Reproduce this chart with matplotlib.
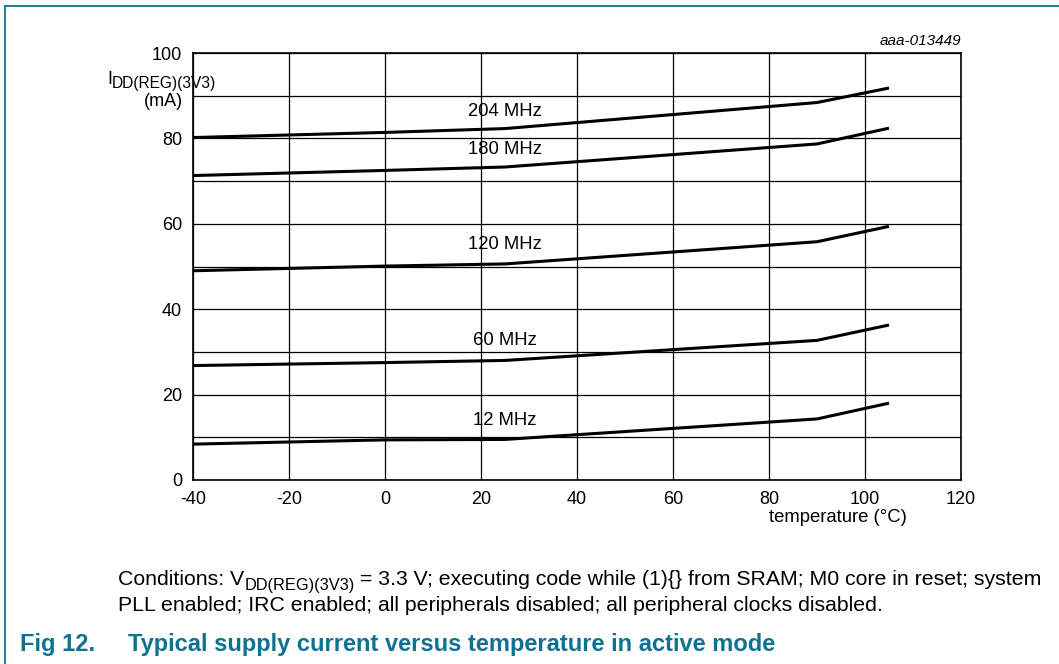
import matplotlib.pyplot as plt
from matplotlib.lines import Line2D

plt.rcParams['font.family'] = ['Liberation Sans', 'DejaVu Sans']
plt.rcParams['axes.unicode_minus'] = False

temp = [-40, 0, 25, 90, 105]

i_204 = [80.2, 81.4, 82.3, 88.4, 91.8]
i_180 = [71.3, 72.5, 73.3, 78.7, 82.4]
i_120 = [49.0, 50.1, 50.6, 55.8, 59.4]
i_60 = [26.8, 27.5, 28.0, 32.7, 36.3]
i_12 = [8.4, 9.4, 9.5, 14.3, 18.0]

series = [i_204, i_180, i_120, i_60, i_12]
labels = ['204 MHz', '180 MHz', '120 MHz', '60 MHz', '12 MHz']
label_y = [86.3, 77.3, 55.2, 32.7, 13.9]

teal = '#0f7291'
W, H = 1059, 664

fig = plt.figure(figsize=(W / 100, H / 100), dpi=100)
ax = fig.add_axes([193 / W, 1 - 480 / H, (961 - 193) / W, (480 - 53) / H])

for vals in series:
    ax.plot(temp, vals, color='black', lw=2.2, solid_capstyle='butt', zorder=3)

for lab, ly in zip(labels, label_y):
    ax.text(25, ly, lab, ha='center', va='center', fontsize=13.3, zorder=4)

ax.set_xlim(-40, 120)
ax.set_ylim(0, 100)
ax.set_xticks(range(-40, 121, 20))
ax.set_yticks(range(0, 101, 20))
ax.set_yticks(range(0, 101, 10), minor=True)
ax.grid(which='both', color='black', lw=0.9)
ax.tick_params(which='both', length=0, labelsize=13, pad=8)
for s in ax.spines.values():
    s.set_linewidth(1.2)

renderer = fig.canvas.get_renderer()


def put_parts(x, y, parts, **kw):
    # place text pieces one after another, in pixel coords from top-left
    for txt, size, dy in parts:
        t = fig.text(x / W, 1 - (y + dy) / H, txt, ha='left', va='baseline', fontsize=size, **kw)
        x += t.get_window_extent(renderer).width


# axis titles
put_parts(107, 84, [('I', 13, 0), ('DD(REG)(3V3)', 11.2, 4)])
fig.text(183 / W, 1 - 101 / H, '(mA)', ha='right', va='center', fontsize=13)
fig.text(907 / W, 1 - 517 / H, 'temperature (°C)', ha='right', va='center', fontsize=13.3)
fig.text(961 / W, 1 - 41 / H, 'aaa-013449', ha='right', va='center', fontsize=11, style='italic')

# conditions note
put_parts(118, 585, [('Conditions: V', 15.3, 0), ('DD(REG)(3V3)', 11.8, 5),
                     (' = 3.3 V; executing code while (1){} from SRAM; M0 core in reset; system', 15.3, 0)])
put_parts(118, 611, [('PLL enabled; IRC enabled; all peripherals disabled; all peripheral clocks disabled.', 15.3, 0)])

fig.text(20 / W, 1 - 644 / H, 'Fig 12.', ha='left', va='center', fontsize=17, fontweight='bold', color=teal)
fig.text(128 / W, 1 - 644 / H, 'Typical supply current versus temperature in active mode',
         ha='left', va='center', fontsize=17, fontweight='bold', color=teal)

# frame on top and left
fig.add_artist(Line2D([5 / W, 5 / W], [0, 1 - 6 / H], transform=fig.transFigure, color=teal, lw=1.3))
fig.add_artist(Line2D([5 / W, 1], [1 - 6 / H, 1 - 6 / H], transform=fig.transFigure, color=teal, lw=1.3))

fig.savefig('out.png', dpi=100)
